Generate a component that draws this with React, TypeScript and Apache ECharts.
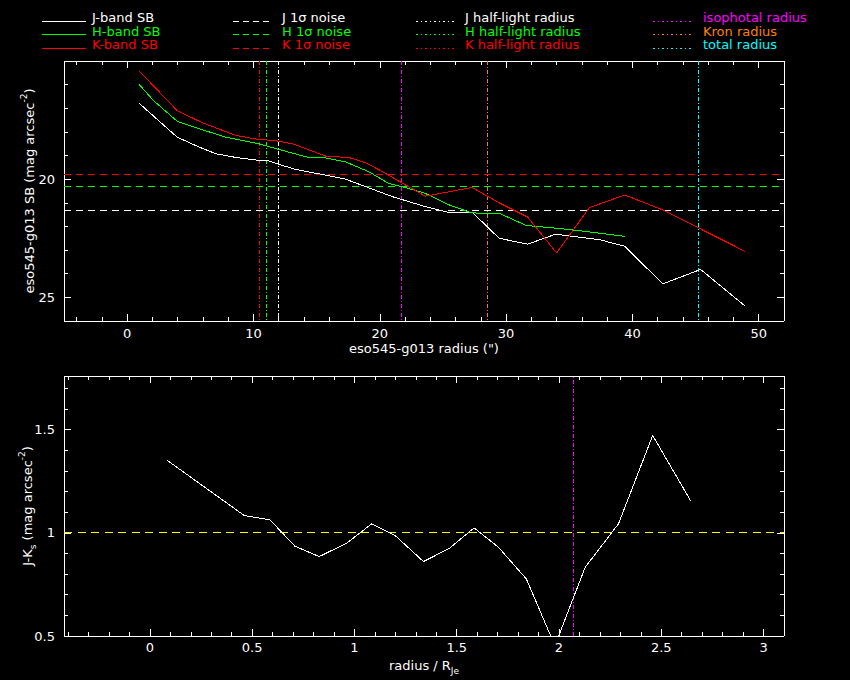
import React, { useEffect, useRef } from 'react';
import * as echarts from 'echarts';

// ---- data ----
const J_SB: [number, number][] = [
  [0.93, 16.78], [3.96, 18.22], [5.6, 18.62], [7.0, 18.92], [8.6, 19.08], [10.4, 19.2],
  [11.2, 19.23], [12.0, 19.37], [13.3, 19.58], [15.7, 19.83], [17.3, 20.0], [18.9, 20.32],
  [21.0, 20.74], [23.6, 21.16], [25.3, 21.39], [27.3, 21.39], [29.45, 22.5], [31.7, 22.75],
  [33.9, 22.33], [35.3, 22.42], [37.4, 22.56], [39.4, 22.84], [42.4, 24.43], [45.4, 23.82],
  [48.9, 25.36],
];
const H_SB: [number, number][] = [
  [0.93, 15.98], [2.1, 16.68], [3.96, 17.55], [5.9, 17.9], [7.8, 18.22], [10.4, 18.5],
  [12.0, 18.74], [14.4, 19.09], [15.7, 19.1], [17.3, 19.27], [19.15, 19.69], [20.7, 20.18],
  [21.8, 20.32], [23.6, 20.6], [25.5, 21.09], [27.3, 21.43], [29.45, 21.44], [31.6, 21.96],
  [33.9, 22.07], [36.3, 22.21], [38.4, 22.35], [39.4, 22.42],
];
const K_SB: [number, number][] = [
  [0.93, 15.42], [1.7, 15.84], [3.96, 17.1], [5.9, 17.6], [8.6, 18.15], [10.4, 18.32],
  [11.6, 18.36], [13.1, 18.5], [15.7, 19.02], [17.6, 19.09], [18.9, 19.31], [20.0, 19.62],
  [21.5, 20.08], [23.6, 20.72], [25.5, 20.53], [27.3, 20.35], [29.45, 21.0], [31.7, 21.6],
  [34.0, 23.12], [36.6, 21.2], [39.4, 20.67], [42.4, 21.3], [48.9, 23.05],
];
const J_NOISE = 21.34;
const H_NOISE = 20.31;
const K_NOISE = 19.79;
const J_HALF = 11.97;
const H_HALF = 11.02;
const K_HALF = 10.46;
const ISO_RADIUS = 21.71;
const KRON_RADIUS = 28.53;
const TOTAL_RADIUS = 45.25;

const JK_COLOR: [number, number][] = [
  [0.085, 1.351], [0.461, 1.084], [0.587, 1.063], [0.709, 0.935], [0.828, 0.885],
  [0.962, 0.95], [1.085, 1.044], [1.199, 0.987], [1.337, 0.861], [1.462, 0.923],
  [1.585, 1.024], [1.704, 0.93], [1.84, 0.777], [1.98, 0.453], [2.128, 0.833],
  [2.291, 1.044], [2.458, 1.472], [2.645, 1.153],
];
const JK_REF = 1.0;
const ISO_OVER_RJE = 2.071;

// axis ranges
const TOP_X_RANGE = [-5, 52];
const TOP_Y_RANGE = [15, 26];
const BOT_X_RANGE = [-0.42, 3.1];
const BOT_Y_RANGE = [0.5, 1.76];

const TOP_X_LABELS = [0, 10, 20, 30, 40, 50];
const TOP_Y_LABELS = [20, 25];
const BOT_X_LABELS = [0, 0.5, 1, 1.5, 2, 2.5, 3];
const BOT_Y_LABELS = [0.5, 1, 1.5];

const LEGEND_TEXT = [
  ['J-band SB', 'H-band SB', 'K-band SB'],
  ['J 1σ noise', 'H 1σ noise', 'K 1σ noise'],
  ['J half-light radius', 'H half-light radius', 'K half-light radius'],
  ['isophotal radius', 'Kron radius', 'total radius'],
];
const LEGEND_COLORS = [
  ['#ffffff', '#00ff00', '#ff0000'],
  ['#ffffff', '#00ff00', '#ff0000'],
  ['#ffffff', '#00ff00', '#ff0000'],
  ['#ff00ff', '#ff8000', '#00ffff'],
];

// ---- styling ----
const FONT = 'DejaVu Sans';
const WHITE = '#ffffff';
const GREEN = '#00ff00';
const RED = '#ff0000';
const MAGENTA = '#ff00ff';
const ORANGE = '#ff8000';
const CYAN = '#00ffff';
const YELLOW = '#ffff00';
const DASH = [7, 5];
const DASHDOT = [4, 2, 1, 2];
const DOTS = [1.5, 3];

const inList = (list: number[]) => (v: number) =>
  list.some((t) => Math.abs(t - v) < 1e-6) ? String(Math.round(v * 10) / 10) : '';

function axis(extra: any, labels: number[] | null, margin = 6) {
  return {
    type: 'value',
    splitLine: { show: false },
    minorSplitLine: { show: false },
    axisLine: { show: true, onZero: false, lineStyle: { color: WHITE, width: 1 } },
    axisTick: { show: true, inside: true, length: 7, lineStyle: { color: WHITE, width: 1 } },
    minorTick: { show: true, splitNumber: 5, length: 4, lineStyle: { color: WHITE, width: 1 } },
    axisLabel: labels
      ? {
          show: true,
          color: WHITE,
          fontSize: 13,
          fontFamily: FONT,
          margin,
          formatter: inList(labels),
          showMinLabel: true,
          showMaxLabel: true,
          hideOverlap: false,
        }
      : { show: false },
    nameMoveOverlap: false,
    ...extra,
  };
}

const nameStyle = {
  color: WHITE,
  fontSize: 13,
  fontFamily: FONT,
  rich: {
    n: { color: WHITE, fontSize: 13, fontFamily: FONT, lineHeight: 20 },
    sup: { color: WHITE, fontSize: 9, fontFamily: FONT, lineHeight: 9, verticalAlign: 'top' },
    sub: { color: WHITE, fontSize: 9, fontFamily: FONT, lineHeight: 9, verticalAlign: 'bottom' },
  },
};

// horizontal / vertical reference lines drawn as two-point line series
function hRef(xi: number, yi: number, xRange: number[], y: number, color: string, type: number[]) {
  return {
    type: 'line',
    xAxisIndex: xi,
    yAxisIndex: yi,
    data: [[xRange[0], y], [xRange[1], y]],
    symbol: 'none',
    silent: true,
    color,
    lineStyle: { color, width: 1, type },
  };
}
function vRef(xi: number, yi: number, yRange: number[], x: number, color: string, type: number[]) {
  return {
    type: 'line',
    xAxisIndex: xi,
    yAxisIndex: yi,
    data: [[x, yRange[0]], [x, yRange[1]]],
    symbol: 'none',
    silent: true,
    color,
    lineStyle: { color, width: 1, type },
  };
}

function legendGraphics() {
  const rowsY = [17.5, 31, 44.5];
  const cols = [
    { x1: 42, x2: 86, tx: 92, dash: null as number[] | null },
    { x1: 233, x2: 270, tx: 282, dash: [6, 4] },
    { x1: 416, x2: 456, tx: 465, dash: DOTS },
    { x1: 653, x2: 693, tx: 703, dash: DOTS },
  ];
  const els: any[] = [];
  cols.forEach((c, ci) => {
    rowsY.forEach((y, ri) => {
      const color = LEGEND_COLORS[ci][ri];
      els.push({
        type: 'line',
        silent: true,
        shape: { x1: c.x1, y1: y + 3.5, x2: c.x2, y2: y + 3.5 },
        style: { stroke: color, lineWidth: 1, lineDash: c.dash || undefined },
      });
      els.push({
        type: 'text',
        silent: true,
        x: c.tx,
        y: y,
        style: {
          text: LEGEND_TEXT[ci][ri],
          fill: color,
          fontSize: 13,
          fontFamily: FONT,
          verticalAlign: 'middle',
          align: 'left',
        },
      });
    });
  });
  return els;
}

function bandSeries(data: [number, number][], color: string, xi = 0, yi = 0) {
  return {
    type: 'line',
    xAxisIndex: xi,
    yAxisIndex: yi,
    data,
    symbol: 'none',
    clip: true,
    color,
    lineStyle: { color, width: 1 },
  };
}

export default function App() {
  const ref = useRef<HTMLDivElement>(null);
  useEffect(() => {
    document.body.style.margin = '0';
    document.body.style.background = '#000';
    const chart = echarts.init(ref.current!, undefined, { renderer: 'svg' });
    const option: any = {
      animation: false,
      backgroundColor: '#000000',
      grid: [
        { left: 64, top: 61, width: 720, height: 260, outerBoundsMode: 'none', containLabel: false },
        { left: 64, top: 376, width: 720, height: 260, outerBoundsMode: 'none', containLabel: false },
      ],
      xAxis: [
        axis(
          {
            gridIndex: 0,
            position: 'bottom',
            min: TOP_X_RANGE[0],
            max: TOP_X_RANGE[1],
            splitNumber: 5,
            name: 'eso545-g013 radius (")',
            nameLocation: 'middle',
            nameGap: 21,
            nameTextStyle: nameStyle,
          },
          TOP_X_LABELS,
          6
        ),
        axis({ gridIndex: 0, position: 'top', min: TOP_X_RANGE[0], max: TOP_X_RANGE[1], splitNumber: 5 }, null),
        axis(
          {
            gridIndex: 1,
            position: 'bottom',
            min: BOT_X_RANGE[0],
            max: BOT_X_RANGE[1],
            splitNumber: 7,
            name: '{n|radius / R}{sub|Je}',
            nameLocation: 'middle',
            nameGap: 19,
            nameTextStyle: nameStyle,
          },
          BOT_X_LABELS,
          5
        ),
        axis({ gridIndex: 1, position: 'top', min: BOT_X_RANGE[0], max: BOT_X_RANGE[1], splitNumber: 7 }, null),
      ],
      yAxis: [
        axis(
          {
            gridIndex: 0,
            position: 'left',
            min: TOP_Y_RANGE[0],
            max: TOP_Y_RANGE[1],
            interval: 5,
            inverse: true,
            name: '{n|eso545-g013 SB (mag arcsec}{sup|-2}{n|)}',
            nameLocation: 'middle',
            nameRotate: 90,
            nameGap: 25,
            nameTextStyle: nameStyle,
          },
          TOP_Y_LABELS,
          9
        ),
        axis(
          { gridIndex: 0, position: 'right', min: TOP_Y_RANGE[0], max: TOP_Y_RANGE[1], interval: 5, inverse: true },
          null
        ),
        axis(
          {
            gridIndex: 1,
            position: 'left',
            min: BOT_Y_RANGE[0],
            max: BOT_Y_RANGE[1],
            interval: 0.5,
            name: '{n|J-K}{sub|s}{n| (mag arcsec}{sup|-2}{n|)}',
            nameLocation: 'middle',
            nameRotate: 90,
            nameGap: 27,
            nameTextStyle: nameStyle,
          },
          BOT_Y_LABELS,
          9
        ),
        axis({ gridIndex: 1, position: 'right', min: BOT_Y_RANGE[0], max: BOT_Y_RANGE[1], interval: 0.5 }, null),
      ],
      graphic: legendGraphics(),
      series: [
        hRef(0, 0, TOP_X_RANGE, J_NOISE, WHITE, DASH),
        hRef(0, 0, TOP_X_RANGE, H_NOISE, GREEN, DASH),
        hRef(0, 0, TOP_X_RANGE, K_NOISE, RED, DASH),
        vRef(0, 0, TOP_Y_RANGE, J_HALF, WHITE, DASHDOT),
        vRef(0, 0, TOP_Y_RANGE, H_HALF, GREEN, DASHDOT),
        vRef(0, 0, TOP_Y_RANGE, K_HALF, RED, DASHDOT),
        vRef(0, 0, TOP_Y_RANGE, ISO_RADIUS, MAGENTA, DASHDOT),
        vRef(0, 0, TOP_Y_RANGE, KRON_RADIUS, ORANGE, DASHDOT),
        vRef(0, 0, TOP_Y_RANGE, TOTAL_RADIUS, CYAN, DASHDOT),
        bandSeries(J_SB, WHITE),
        bandSeries(H_SB, GREEN),
        bandSeries(K_SB, RED),
        hRef(2, 2, BOT_X_RANGE, JK_REF, YELLOW, [8, 5.5]),
        vRef(2, 2, BOT_Y_RANGE, ISO_OVER_RJE, MAGENTA, DASHDOT),
        bandSeries(JK_COLOR, WHITE, 2, 2),
      ],
    };
    chart.setOption(option);
    return () => chart.dispose();
  }, []);
  return (
    <>
      <style>{'.pgplot-chart svg path, .pgplot-chart svg line { shape-rendering: crispEdges; }'}</style>
      <div className="pgplot-chart" ref={ref} style={{ width: 850, height: 680, background: '#000' }} />
    </>
  );
}
